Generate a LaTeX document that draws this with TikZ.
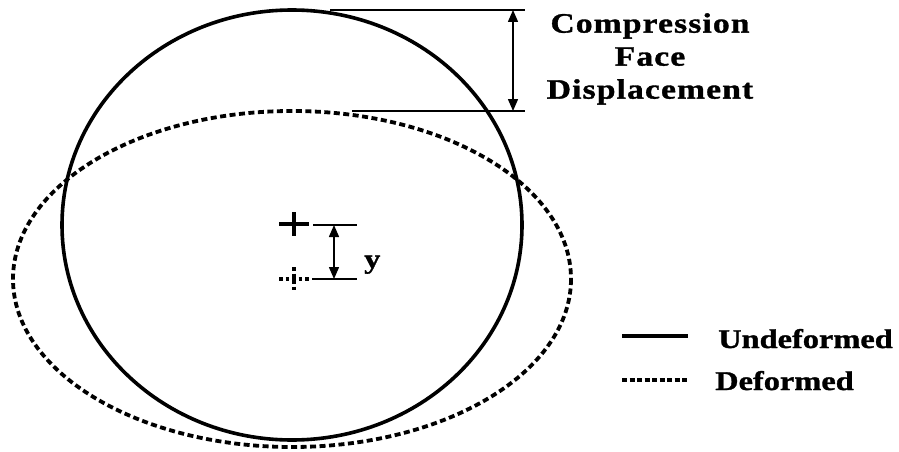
\documentclass[tikz,border=0pt]{standalone}
\usepackage{fontspec}
\setmainfont{Liberation Serif}[FakeStretch=1.2, BoldFeatures={FakeBold=1.2}]
\usepackage{tikz}
\usetikzlibrary{arrows.meta,positioning,calc}

\begin{document}
\begin{tikzpicture}[
    x=1pt, y=-1pt,
    solidline/.style={line width=3.6pt},
    dashline/.style={line width=3.8pt, dash pattern=on 6pt off 3.5pt},
    thinline/.style={line width=1.5pt},
    dimarrow/.style={{Triangle[length=12pt,width=10pt]}-{Triangle[length=12pt,width=10pt]}, line width=1.5pt},
    lbl/.style={font=\bfseries\fontsize{27}{33}\selectfont, inner sep=0pt}
]
\useasboundingbox (0,0) rectangle (899,452);

% Shapes
\draw[solidline] (292,225) ellipse [x radius=230, y radius=215];
\draw[dashline] (292,279) ellipse [x radius=279, y radius=168];

% Centres
\coordinate (c0) at (294,224);
\coordinate (c1) at (294,279);
\draw[solidline] ($(c0)+(-15,0)$) -- ($(c0)+(15,0)$);
\draw[solidline] ($(c0)+(0,-12)$) -- ($(c0)+(0,12)$);
\draw[dashline, dash pattern=on 3.5pt off 3pt] ($(c1)+(-15,0)$) -- ($(c1)+(15,0)$);
\draw[dashline, dash pattern=on 3.5pt off 3pt] ($(c1)+(0,-12)$) -- ($(c1)+(0,12)$);

% Dimension lines
\coordinate (topL) at (330,10);
\coordinate (topR) at (525,10);
\coordinate (botL) at (352,111);
\coordinate (botR) at (525,111);
\draw[thinline] (topL) -- (topR);
\draw[thinline] (botL) -- (botR);
\coordinate (dimT) at (513,10);
\coordinate (dimB) at (513,111);
\draw[dimarrow] (dimT) -- (dimB);

\coordinate (yTL) at (313,225);
\coordinate (yTR) at (357,225);
\coordinate (yBL) at (312,279);
\coordinate (yBR) at (357,279);
\draw[thinline] (yTL) -- (yTR);
\draw[thinline] (yBL) -- (yBR);
\coordinate (yT) at (334,225);
\coordinate (yB) at (334,279);
\draw[dimarrow] (yT) -- (yB);

% Labels
\node[lbl, align=center, anchor=north, font=\bfseries\fontsize{28}{33}\selectfont\addfontfeature{LetterSpace=4}] (comp) at (650,13) {Compression\\Face\\Displacement};
\node[lbl, anchor=base west] (ylbl) at (364,268) {y};

% Legend
\node[lbl, anchor=base west] (undef) at (718,348) {Undeformed};
\node[lbl, anchor=base west] (def) at (715,390) {Deformed};
\coordinate (legA) at (622,336);
\coordinate (legB) at (688,336);
\coordinate (legC) at (622,380);
\coordinate (legD) at (687,380);
\draw[solidline] (legA) -- (legB);
\draw[dashline, line width=3.2pt, dash pattern=on 5pt off 2.5pt] (legC) -- (legD);
\end{tikzpicture}
\end{document}
